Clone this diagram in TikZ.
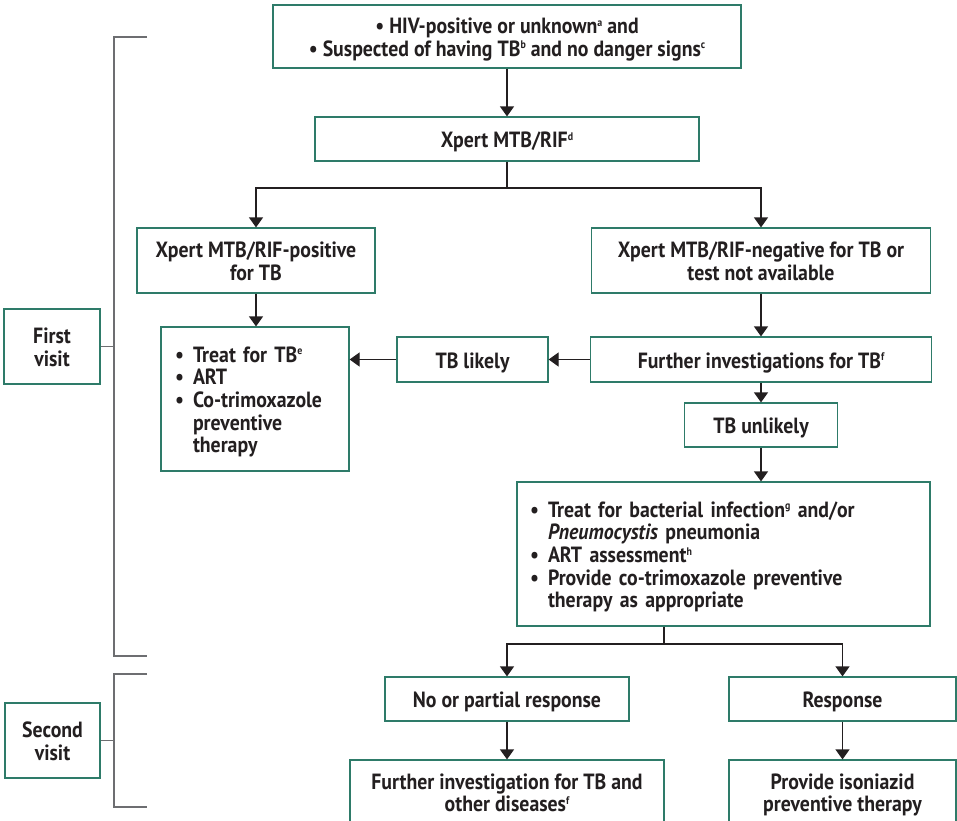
\documentclass[tikz,border=0pt]{standalone}
\usepackage{fontspec}
\setmainfont{PT Sans}[FakeStretch=0.9]
\usetikzlibrary{arrows.meta}
\definecolor{boxg}{HTML}{2E7B69}
\definecolor{txt}{HTML}{231F20}
\definecolor{brk}{HTML}{6D6E71}
\newcommand\sps[1]{\raisebox{7.5pt}{\fontsize{11}{11}\selectfont #1}}
\newcommand\bigdot{•}
\newcommand\bul{\makebox[18pt][l]{\bigdot}}
\newcommand\ind{\hspace*{18pt}}
\tikzset{
  box/.style={draw=boxg, line width=1.2pt, fill=white, text=txt, inner sep=0pt,
    align=center, font=\fontsize{22}{22.7}\selectfont\bfseries, text depth=0pt, text height=17pt},
  two/.style={text height=39.7pt},
  five/.style={text height=17pt, text depth=90.8pt},
  listbox/.style={box, align=left},
  arr/.style={draw=txt, line width=1.2pt, -{Triangle[width=14pt,length=10pt]}},
  ln/.style={draw=txt, line width=1.2pt},
  brkl/.style={draw=brk, line width=1.2pt},
}
\begin{document}
\begin{tikzpicture}[x=1pt,y=-1pt]
\useasboundingbox (0,0) rectangle (957,820);
% nodes
\node[box, two, minimum width=468pt, minimum height=63pt] (top) at (507,36.5)
  {\bigdot\ HIV-positive or unknown\sps{a} and\\\bigdot\ Suspected of having TB\sps{b} and no danger signs\sps{c}};
\node[box, minimum width=384pt, minimum height=44pt] (xpert) at (507,139) {Xpert MTB/RIF\sps{d}};
\node[box, two, minimum width=238pt, minimum height=65pt] (pos) at (256,260.5) {Xpert MTB/RIF-positive\\for TB};
\node[box, two, minimum width=339pt, minimum height=65pt] (neg) at (761,260.5) {Xpert MTB/RIF-negative for TB or\\test not available};
\node[listbox, five, text width=160pt, inner xsep=14pt, minimum height=144pt] (treat) at (255,399)
  {\bul Treat for TB\sps{e}\\\bul ART\\\bul Co-trimoxazole\\\ind preventive\\\ind therapy};
\node[box, minimum width=151pt, minimum height=45pt] (likely) at (472.5,359.5) {TB likely};
\node[box, minimum width=341pt, minimum height=45pt] (further) at (761,359.5) {Further investigations for TB\sps{f}};
\node[box, minimum width=153pt, minimum height=44pt] (unlikely) at (761,425) {TB unlikely};
\node[listbox, five, text width=387pt, inner xsep=13pt, minimum height=144pt] (big) at (723.5,554)
  {\bul Treat for bacterial infection\sps{g} and/or\\\ind \textit{Pneumocystis} pneumonia\\\bul ART assessment\sps{h}\\\bul Provide co-trimoxazole preventive\\\ind therapy as appropriate};
\node[box, minimum width=244pt, minimum height=44pt] (nopart) at (507,699) {No or partial response};
\node[box, minimum width=227pt, minimum height=44pt] (resp) at (842.5,699) {Response};
\node[box, two, minimum width=314pt, minimum height=64pt] (finv) at (507,792) {Further investigation for TB and\\other diseases\sps{f}};
\node[box, two, minimum width=227pt, minimum height=64pt] (iso) at (842.5,792) {Provide isoniazid\\preventive therapy};
\node[box, two, minimum width=96pt, minimum height=75pt] (fv) at (52,346.5) {First\\visit};
\node[box, two, minimum width=95pt, minimum height=75pt] (sv) at (52.5,740.5) {Second\\visit};
% junctions
\coordinate (j1) at (507,188);
\coordinate (j2) at (664,644);
\coordinate (b1a) at (147,37);
\coordinate (b1b) at (147,656);
\coordinate (b1m) at (114,346.5);
\coordinate (b2a) at (147,674);
\coordinate (b2b) at (147,807);
\coordinate (b2m) at (114,740.5);
% connectors
\draw[arr] (top.south) -- (xpert.north);
\draw[ln] (xpert.south) -- (j1);
\draw[arr] (j1) -| (pos.north);
\draw[arr] (j1) -| (neg.north);
\draw[arr] (pos.south) -- (pos.south |- treat.north);
\draw[arr] (neg.south) -- (further.north);
\draw[arr] (further.west) -- (likely.east);
\draw[arr] (likely.west) -- (likely.west -| treat.east);
\draw[arr] (further.south) -- (unlikely.north);
\draw[arr] (unlikely.south) -- (unlikely.south |- big.north);
\draw[ln] (big.south -| j2) -- (j2);
\draw[arr] (j2) -| (nopart.north);
\draw[arr] (j2) -| (resp.north);
\draw[arr] (nopart.south) -- (finv.north);
\draw[arr] (resp.south) -- (iso.north);
% brackets
\draw[brkl] (b1a) -- (b1a -| b1m) -- (b1b -| b1m) -- (b1b);
\draw[brkl] (fv.east) -- (b1m);
\draw[brkl] (b2a) -- (b2a -| b2m) -- (b2b -| b2m) -- (b2b);
\draw[brkl] (sv.east) -- (b2m);
\end{tikzpicture}
\end{document}
